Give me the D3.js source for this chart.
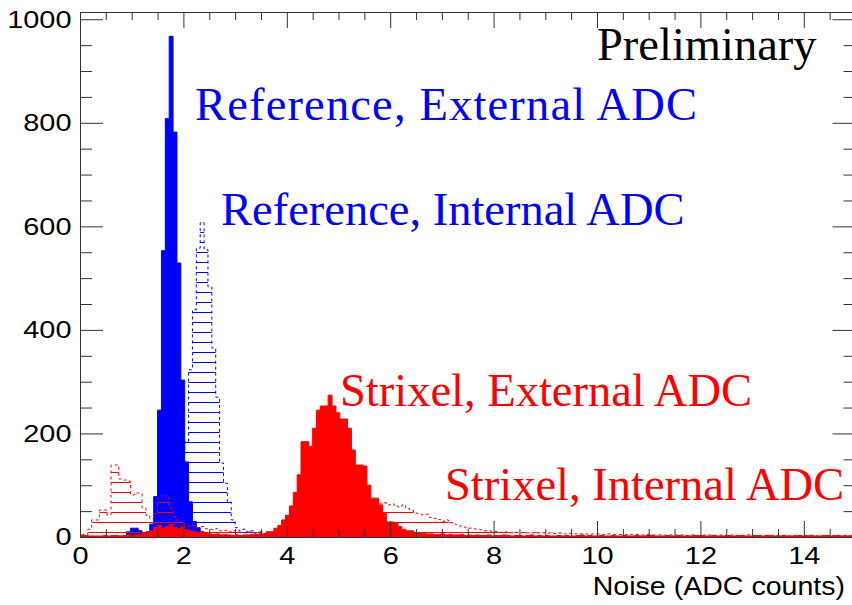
<!DOCTYPE html>
<html>
<head>
<meta charset="utf-8">
<script src="https://cdn.jsdelivr.net/npm/d3@7"></script>
<style>
  html, body { margin: 0; padding: 0; background: #fff; }
  svg { display: block; }
</style>
</head>
<body>
<svg id="main-svg" width="852" height="605"></svg>
<script>
// 200 bins of 0.075 ADC counts between 0 and 15
const binWidth = 0.075;
const nBins = 200;
const xMajorTicks = [0, 2, 4, 6, 8, 10, 12, 14];
const yMajorTicks = [0, 200, 400, 600, 800, 1000];

// Reference, External ADC (solid blue), starting at bin 12
const refExtFirstBin = 12;
const refExtCounts = [10, 17, 17, 12, 6, 10, 25, 78, 245, 553, 808, 967, 782, 529, 303, 145, 68,
  30, 18, 10, 6, 4, 3, 2, 2, 1];

// Reference, Internal ADC (blue hatched), starting at bin 15
const refIntFirstBin = 15;
const refIntCounts = [2, 3, 5, 8, 12, 20, 30, 50, 75, 100, 130, 160, 184, 323, 439, 558, 607, 555,
  483, 365, 270, 143, 104, 68, 33, 18, 12, 15, 10, 12, 8, 10, 6, 5, 4, 2, 2, 1];

// Strixel, External ADC (solid red), all bins
const strExtCounts = [
  4, 3, 2, 2, 2, 2, 3, 2, 3, 3,
  2, 3, 4, 3, 4, 5, 6, 8, 12, 18,
  22, 17, 20, 24, 18, 16, 20, 14, 12, 10,
  8, 9, 7, 6, 5, 6, 4, 5, 4, 3,
  4, 3, 4, 4, 5, 5, 6, 6, 10, 10,
  17, 22, 33, 42, 60, 86, 120, 184, 184, 175,
  210, 245, 253, 253, 274, 253, 240, 228, 228, 210,
  168, 139, 139, 137, 100, 75, 75, 62, 46, 29,
  29, 27, 20, 15, 12, 12, 9, 8, 7, 6,
  6, 5, 5, 6, 4, 5, 4, 4, 5, 3,
  4, 3, 4, 3, 3, 4, 2, 3, 3, 4,
  3, 2, 3, 3, 2, 3, 4, 2, 3, 2,
  3, 2, 2, 3, 2, 3, 2, 2, 3, 4,
  2, 3, 2, 2, 3, 2, 2, 3, 2, 2,
  3, 2, 2, 3, 2, 2, 3, 3, 2, 2,
  2, 3, 2, 2, 3, 2, 2, 2, 3, 2,
  3, 2, 2, 3, 2, 2, 2, 3, 2, 2,
  3, 2, 2, 2, 3, 2, 2, 3, 2, 2,
  2, 3, 2, 2, 2, 3, 2, 2, 3, 2,
  2, 2, 3, 2, 2, 3, 2, 2, 2, 3];

// Strixel, Internal ADC (red hatched), all bins
const strIntCounts = [
  6, 3, 15, 33, 33, 52, 52, 42, 139, 139,
  112, 110, 108, 81, 85, 85, 56, 42, 35, 45,
  75, 81, 78, 56, 39, 29, 28, 22, 20, 22,
  18, 20, 16, 15, 14, 16, 12, 13, 10, 12,
  10, 9, 8, 10, 8, 7, 8, 6, 9, 7,
  8, 10, 12, 14, 16, 18, 20, 23, 26, 30,
  33, 36, 40, 44, 48, 52, 55, 58, 60, 62,
  63, 64, 65, 66, 66, 65, 65, 64, 66, 62,
  64, 60, 58, 62, 55, 52, 46, 45, 43, 44,
  38, 36, 34, 30, 33, 28, 25, 24, 20, 19,
  17, 16, 15, 14, 12, 12, 10, 11, 9, 10,
  9, 8, 9, 8, 9, 8, 8, 9, 8, 8,
  7, 8, 7, 8, 7, 6, 7, 6, 7, 6,
  6, 5, 6, 6, 5, 5, 6, 5, 5, 5,
  5, 4, 5, 5, 4, 4, 5, 4, 4, 4,
  4, 3, 4, 4, 3, 4, 3, 4, 4, 3,
  3, 4, 4, 3, 3, 4, 3, 3, 4, 3,
  3, 3, 4, 3, 3, 3, 3, 3, 3, 3,
  3, 3, 2, 3, 3, 3, 2, 3, 3, 3,
  2, 3, 3, 2, 3, 2, 3, 3, 2, 3];

const labelTexts = ["Preliminary", "Reference, External ADC", "Reference, Internal ADC",
  "Strixel, External ADC", "Strixel, Internal ADC"];

// where each caption sits (left x, baseline y), its colour and, if needed, its stretched width
const labelLayout = [
  { x: 597, y: 60, color: "#000000" },
  { x: 195, y: 120, color: "#0000ff", width: 502 },
  { x: 221, y: 225, color: "#0000ff" },
  { x: 340, y: 406, color: "#ff0000" },
  { x: 445, y: 500, color: "#ff0000" }
];

function expand(first, counts) {
  const full = new Array(nBins).fill(0);
  counts.forEach((c, i) => { full[first + i] = c; });
  return full;
}

// step points: bin low edges plus closing points at both ends
function stepPoints(counts) {
  const pts = [[0, 0]];
  counts.forEach((c, i) => pts.push([i * binWidth, c]));
  pts.push([nBins * binWidth, counts[nBins - 1]]);
  pts.push([nBins * binWidth, 0]);
  return pts;
}

const svg = d3.select("#main-svg");

const x = d3.scaleLinear().domain([0, 15]).range([80, 855.5]);
const y = d3.scaleLinear().domain([0, 1014]).range([537, 12]);

const defs = svg.append("defs");
defs.append("clipPath").attr("id", "frame-clip")
  .append("rect")
  .attr("x", x(0)).attr("y", y(1014))
  .attr("width", x(15) - x(0)).attr("height", y(0) - y(1014));

function hatch(id, color) {
  const p = defs.append("pattern")
    .attr("id", id)
    .attr("patternUnits", "userSpaceOnUse")
    .attr("width", 20).attr("height", 10);
  p.append("rect")
    .attr("x", 0).attr("y", 2).attr("width", 20).attr("height", 1)
    .attr("fill", color);
}
hatch("hatch-blue", "#0000ff");
hatch("hatch-red", "#ff0000");

const area = d3.area()
  .x(d => x(d[0]))
  .y0(y(0))
  .y1(d => y(d[1]))
  .curve(d3.curveStepAfter);

const line = d3.line()
  .x(d => x(d[0]))
  .y(d => y(d[1]))
  .curve(d3.curveStepAfter);

const plot = svg.append("g").attr("clip-path", "url(#frame-clip)");

function drawHatched(counts, color, patternId) {
  const pts = stepPoints(counts);
  plot.append("path").attr("d", area(pts)).attr("fill", `url(#${patternId})`);
  plot.append("path").attr("d", line(pts))
    .attr("fill", "none")
    .attr("stroke", color)
    .attr("stroke-width", 1)
    .attr("stroke-dasharray", "3,3");
}

function drawFilled(counts, color) {
  const pts = stepPoints(counts);
  plot.append("path").attr("d", area(pts)).attr("fill", color);
  plot.append("path").attr("d", line(pts))
    .attr("fill", "none").attr("stroke", color).attr("stroke-width", 1);
}

drawHatched(expand(refIntFirstBin, refIntCounts), "#0000ff", "hatch-blue");
drawFilled(expand(refExtFirstBin, refExtCounts), "#0000ff");
drawHatched(strIntCounts, "#ff0000", "hatch-red");
drawFilled(strExtCounts, "#ff0000");

// axes, ROOT style: ticks pointing into the frame on all four sides
const xMinor = d3.range(0, 15.01, 0.5).filter(v => v % 2 !== 0);
const yMinor = d3.range(0, 1014, 50).filter(v => v % 200 !== 0);
const axisColor = "#333";
const sansStretch = 1.18; // the sans labels in the picture are wide

function styleAxis(g) {
  g.selectAll("path, line").attr("stroke", axisColor);
  g.selectAll("text")
    .attr("fill", "#000")
    .style("font-family", "'Liberation Sans', Arial, sans-serif")
    .style("font-size", "24.5px");
}

svg.append("g").attr("transform", `translate(0,${y(0)})`)
  .call(d3.axisBottom(x).tickValues(xMajorTicks).tickSize(-16).tickSizeOuter(0).tickPadding(10))
  .call(styleAxis)
  .call(g => g.selectAll("text").attr("transform", `scale(${sansStretch},1)`));
svg.append("g").attr("transform", `translate(0,${y(0)})`)
  .call(d3.axisBottom(x).tickValues(xMinor).tickSize(-8).tickFormat("").tickSizeOuter(0))
  .call(styleAxis);
svg.append("g").attr("transform", `translate(0,${y(1014)})`)
  .call(d3.axisTop(x).tickValues(xMajorTicks).tickSize(-16).tickFormat("").tickSizeOuter(0))
  .call(styleAxis);
svg.append("g").attr("transform", `translate(0,${y(1014)})`)
  .call(d3.axisTop(x).tickValues(xMinor).tickSize(-8).tickFormat("").tickSizeOuter(0))
  .call(styleAxis);

svg.append("g").attr("transform", `translate(${x(0)},0)`)
  .call(d3.axisLeft(y).tickValues(yMajorTicks).tickFormat(d3.format("d"))
    .tickSize(-23).tickSizeOuter(0).tickPadding(8))
  .call(styleAxis)
  .call(g => g.selectAll("text")
    .attr("x", -8.5 / sansStretch)
    .attr("transform", `scale(${sansStretch},1)`));
svg.append("g").attr("transform", `translate(${x(0)},0)`)
  .call(d3.axisLeft(y).tickValues(yMinor).tickSize(-12).tickFormat("").tickSizeOuter(0))
  .call(styleAxis);
svg.append("g").attr("transform", `translate(${x(15)},0)`)
  .call(d3.axisRight(y).tickValues(yMajorTicks).tickSize(-23).tickFormat("").tickSizeOuter(0))
  .call(styleAxis);
svg.append("g").attr("transform", `translate(${x(15)},0)`)
  .call(d3.axisRight(y).tickValues(yMinor).tickSize(-12).tickFormat("").tickSizeOuter(0))
  .call(styleAxis);

svg.append("text")
  .attr("transform", `translate(845,595) scale(1.12,1)`)
  .attr("text-anchor", "end")
  .style("font-family", "'Liberation Sans', Arial, sans-serif")
  .style("font-size", "25.5px")
  .text("Noise (ADC counts)");

const captions = svg.selectAll(".label")
  .data(labelTexts)
  .enter()
  .append("text")
  .attr("class", "label")
  .attr("x", (d, i) => labelLayout[i].x)
  .attr("y", (d, i) => labelLayout[i].y)
  .attr("fill", (d, i) => labelLayout[i].color)
  .style("font-family", "'Liberation Serif', 'Times New Roman', serif")
  .style("font-size", "46.5px")
  .text(d => d);

captions.filter((d, i) => labelLayout[i].width)
  .attr("textLength", (d, i, nodes) => labelLayout[labelTexts.indexOf(d)].width)
  .attr("lengthAdjust", "spacing");
</script>
</body>
</html>
